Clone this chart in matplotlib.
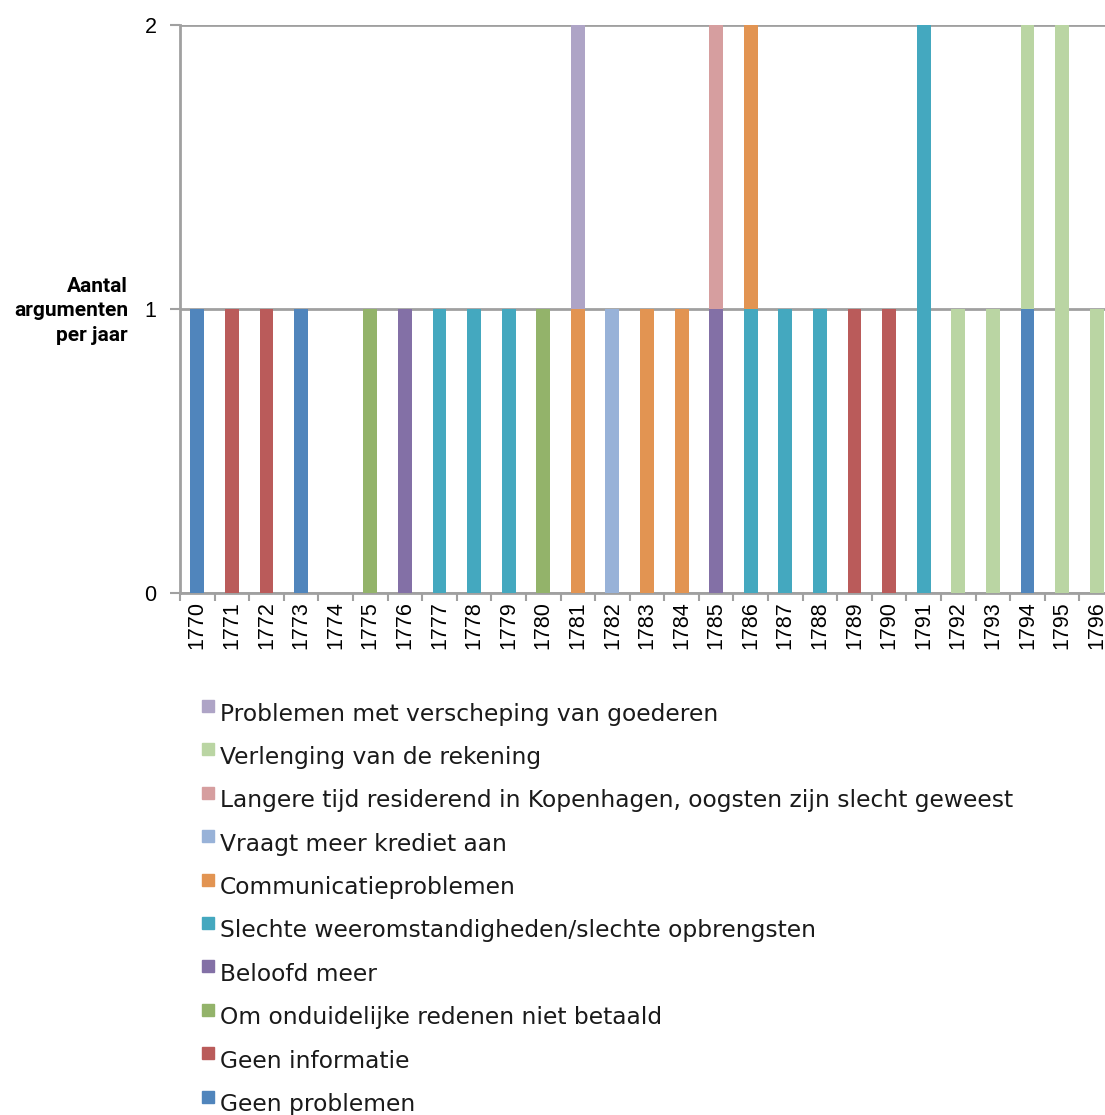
import numpy as np
import matplotlib.pyplot as plt
from matplotlib.patches import Rectangle

# Years on the x axis
years = [str(y) for y in range(1770, 1797)]

# Series, bottom of the stack first
series_names = [
    "Geen problemen",
    "Geen informatie",
    "Om onduidelijke redenen niet betaald",
    "Beloofd meer",
    "Slechte weeromstandigheden/slechte opbrengsten",
    "Communicatieproblemen",
    "Vraagt meer krediet aan",
    "Langere tijd residerend in Kopenhagen, oogsten zijn slecht geweest",
    "Verlenging van de rekening",
    "Problemen met verscheping van goederen",
]
series_colors = [
    "#5085BC", "#BA5B5A", "#93B36A", "#8370A6", "#44A8BF",
    "#E29452", "#98B2D8", "#D69E9F", "#BAD5A3", "#AEA4C6",
]

#                     1770 71 72 73 74 75 76 77 78 79 80 81 82 83 84 85 86 87 88 89 90 91 92 93 94 95 96
geen_problemen     = [1, 0, 0, 1, 0, 0, 0, 0, 0, 0, 0, 0, 0, 0, 0, 0, 0, 0, 0, 0, 0, 0, 0, 0, 1, 0, 0]
geen_informatie    = [0, 1, 1, 0, 0, 0, 0, 0, 0, 0, 0, 0, 0, 0, 0, 0, 0, 0, 0, 1, 1, 0, 0, 0, 0, 0, 0]
onduidelijk        = [0, 0, 0, 0, 0, 1, 0, 0, 0, 0, 1, 0, 0, 0, 0, 0, 0, 0, 0, 0, 0, 0, 0, 0, 0, 0, 0]
beloofd_meer       = [0, 0, 0, 0, 0, 0, 1, 0, 0, 0, 0, 0, 0, 0, 0, 1, 0, 0, 0, 0, 0, 0, 0, 0, 0, 0, 0]
slechte_weer       = [0, 0, 0, 0, 0, 0, 0, 1, 1, 1, 0, 0, 0, 0, 0, 0, 1, 1, 1, 0, 0, 2, 0, 0, 0, 0, 0]
communicatie       = [0, 0, 0, 0, 0, 0, 0, 0, 0, 0, 0, 1, 0, 1, 1, 0, 1, 0, 0, 0, 0, 0, 0, 0, 0, 0, 0]
meer_krediet       = [0, 0, 0, 0, 0, 0, 0, 0, 0, 0, 0, 0, 1, 0, 0, 0, 0, 0, 0, 0, 0, 0, 0, 0, 0, 0, 0]
kopenhagen         = [0, 0, 0, 0, 0, 0, 0, 0, 0, 0, 0, 0, 0, 0, 0, 1, 0, 0, 0, 0, 0, 0, 0, 0, 0, 0, 0]
verlenging         = [0, 0, 0, 0, 0, 0, 0, 0, 0, 0, 0, 0, 0, 0, 0, 0, 0, 0, 0, 0, 0, 0, 1, 1, 1, 2, 1]
verscheping        = [0, 0, 0, 0, 0, 0, 0, 0, 0, 0, 0, 1, 0, 0, 0, 0, 0, 0, 0, 0, 0, 0, 0, 0, 0, 0, 0]

series_values = [geen_problemen, geen_informatie, onduidelijk, beloofd_meer, slechte_weer,
                 communicatie, meer_krediet, kopenhagen, verlenging, verscheping]

grey = "#A0A0A0"

fig = plt.figure(figsize=(11.05, 11.15), dpi=100)
ax = fig.add_axes([180 / 1105, 1 - 593 / 1115, 934 / 1105, (593 - 25) / 1115])

x = np.arange(len(years))
bottom = np.zeros(len(years))
for name, vals, col in zip(series_names, series_values, series_colors):
    ax.bar(x, vals, width=0.4, bottom=bottom, color=col, zorder=3)
    bottom += np.array(vals)

ax.set_xlim(-0.5, len(years) - 0.5)
ax.set_ylim(0, 2)
ax.set_yticks([0, 1, 2])
ax.set_yticklabels(["0", "1", "2"], fontfamily="Liberation Sans", fontsize=15.5)
ax.yaxis.grid(True, color=grey, linewidth=2, zorder=0)

ax.set_xticks(x)
ax.set_xticklabels(years, rotation=90, fontfamily="Liberation Sans", fontsize=15.5)
ax.set_xticks(np.arange(-0.5, len(years), 1), minor=True)
ax.tick_params(axis="x", which="major", length=0, pad=6)
ax.tick_params(axis="x", which="minor", length=6, color=grey, width=1.5)
ax.tick_params(axis="y", length=7, color=grey, width=1.5, pad=10)

for side in ["top", "right"]:
    ax.spines[side].set_visible(False)
for side in ["left", "bottom"]:
    ax.spines[side].set_color(grey)
    ax.spines[side].set_linewidth(2)

fig.text(128 / 1105, 1 - 311 / 1115, "Aantal\nargumenten\nper jaar", ha="right", va="center",
         fontsize=15, fontweight="semibold", fontfamily="Roboto", linespacing=1.35)

# Legend, drawn manually (reverse order, top = last series)
row_y = 714
for name, col in zip(series_names[::-1], series_colors[::-1]):
    fig.patches.append(Rectangle((202 / 1105, 1 - (row_y - 2) / 1115), 12 / 1105, 12 / 1115,
                                 transform=fig.transFigure, color=col, figure=fig))
    fig.text(220 / 1105, 1 - row_y / 1115, name, ha="left", va="center",
             fontsize=16.8, fontfamily="DejaVu Sans", color="#1a1a1a")
    row_y += 43.4

fig.savefig("out.png", dpi=100)
